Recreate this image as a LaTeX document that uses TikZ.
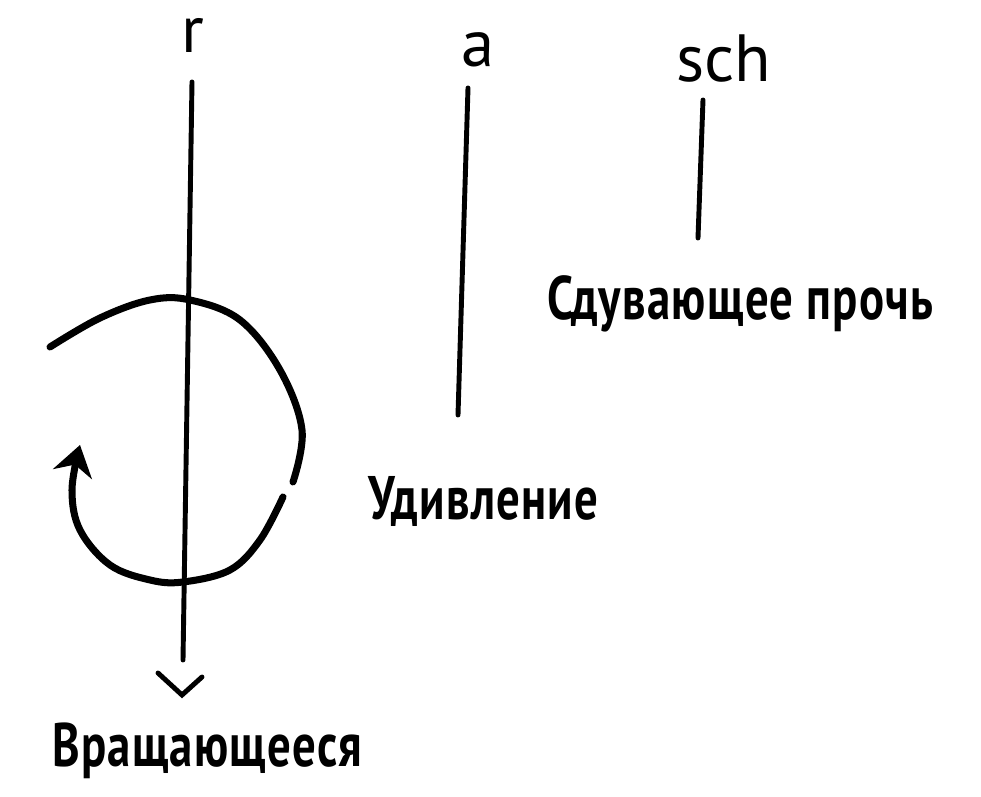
\documentclass[tikz,border=0pt]{standalone}
\usepackage{fontspec}
\usetikzlibrary{arrows.meta}
\setmainfont{PT Sans}
\newfontfamily\printfont[FakeStretch=0.76,LetterSpace=2]{PT Sans}
\tikzset{
	hand/.style={font=\fontsize{38}{40}\selectfont,inner sep=0pt},
	printed/.style={font=\printfont\bfseries\fontsize{35}{38}\selectfont,inner sep=0pt,anchor=base west},
	stroke/.style={draw=black,line width=2.8pt,line cap=round},
	turn/.style={draw=black,line width=4pt,line cap=round},
}

\begin{document}
\begin{tikzpicture}[x=0.02cm,y=0.02cm]
	\useasboundingbox (0,0) rectangle (981,797);
	% labels over the strokes
	\node[hand] (r) at (193,762) {r};
	\node[hand,anchor=base] (a) at (478,730) {a};
	\node[hand,anchor=base] (sch) at (724,715) {sch};
	% free ends of the strokes
	\coordinate (rtop) at (192,715);
	\coordinate (rbot) at (183,137);
	\coordinate (rtip) at (182,102);
	\coordinate (atop) at (468,709);
	\coordinate (abot) at (458,382);
	\coordinate (schtop) at (703,697);
	\coordinate (schbot) at (698,559);
	\draw[stroke] (rtop)--(rbot);
	\draw[stroke] (158,124)--(rtip)--(202,120);
	\draw[stroke] (atop)--(abot);
	\draw[stroke] (schtop)--(schbot);
	% rotation
	\draw[turn] plot[smooth,tension=0.6] coordinates {(50,450) (100,479) (150,497) (190,497) (240,477) (280,427) (302,367) (293,315)};
	\draw[turn,-{Stealth[length=6mm,width=8mm]}] plot[smooth,tension=0.6] coordinates {(283,300) (260,257) (230,227) (183,215) (150,217) (110,232) (80,267) (72,307) (80,352)};
	% captions
	\node[printed] (blow) at (547,477) {Сдувающее прочь};
	\node[printed] (wonder) at (368,277) {Удивление};
	\node[printed] (spin) at (52,30) {Вращающееся};
\end{tikzpicture}
\end{document}
